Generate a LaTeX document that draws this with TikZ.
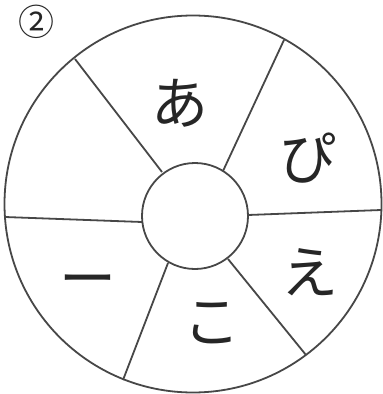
\documentclass[tikz,border=0pt]{standalone}
\usepackage{fontspec}
\newfontfamily\jpfont{Noto Sans CJK JP}
\begin{document}
\begin{tikzpicture}[x=1pt,y=-1pt,
  ln/.style={draw=black!72,line width=1.8pt},
  kana/.style={font=\jpfont\fontsize{57}{57}\selectfont,text=black!85,inner sep=0pt}]
\useasboundingbox (0,0) rectangle (383,394);
\fill[white] (0,0) rectangle (383,394);
% outer circle
\draw[ln] (193,204) circle[radius=188.5];
% inner circle
\node[ln,circle,minimum size=106pt,inner sep=0pt] (hub) at (195,216) {};
% spoke endpoints
\coordinate (i1) at (162,172); \coordinate (o1) at (75,59);
\coordinate (i2) at (223,171); \coordinate (o2) at (284,40);
\coordinate (i3) at (248,215); \coordinate (o3) at (381,210);
\coordinate (i4) at (228,259); \coordinate (o4) at (306,355);
\coordinate (i5) at (168,263); \coordinate (o5) at (123,380);
\coordinate (i6) at (142,222); \coordinate (o6) at (5,217);
\foreach \k in {1,...,6} \draw[ln] (i\k) -- (o\k);
% labels
\node[kana] (a) at (180,103) {あ};
\node[kana] (pi) at (308,158) {ぴ};
\node[kana] (e) at (310,272) {え};
\node[kana] (ko) at (212,323) {こ};
\node[kana] (bar) at (88,287) {ー};
\node[font=\jpfont\fontsize{36}{36}\selectfont,text=black!85,inner sep=0pt] (num) at (37,22) {②};
\end{tikzpicture}
\end{document}
